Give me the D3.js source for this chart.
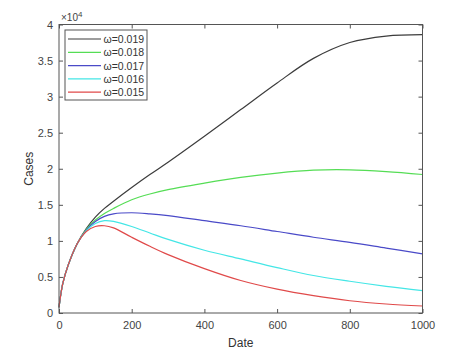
<!DOCTYPE html>
<html><head><meta charset="utf-8">
<script src="https://cdn.jsdelivr.net/npm/d3@7"></script>
<style>
body{margin:0;background:#fff;}
text{font-family:"Liberation Sans",Arial,sans-serif;}
</style></head>
<body><svg id="c" width="455" height="358"></svg>
<script>
const days = [0,10,25,50,75,100,125,150,200,250,300,400,500,600,700,800,900,1000];
const w019 = [800,4000,6600,9600,11700,13300,14500,15500,17400,19200,20900,24500,28200,31900,35300,37500,38400,38600];
const w018 = [800,4000,6600,9600,11600,12900,13800,14500,15700,16500,17100,18000,18800,19400,19800,19850,19600,19200];
const w017 = [800,4000,6600,9600,11500,12700,13400,13750,13900,13750,13500,12800,12100,11300,10500,9800,9000,8200];
const w016 = [800,4000,6600,9600,11400,12400,12800,12700,12000,11100,10200,8700,7500,6300,5200,4400,3700,3100];
const w015 = [800,4000,6600,9600,11300,12000,12100,11800,10500,9250,8100,6150,4500,3300,2400,1700,1250,970];
const seriesNames = ["ω=0.019","ω=0.018","ω=0.017","ω=0.016","ω=0.015"];
const seriesData = [w019,w018,w017,w016,w015];
const colors = ["#3c3c3c","#55dd55","#4a4ac8","#44e6e6","#e04a4a"];
const xTicks = [0,200,400,600,800,1000];
const yTicks = [0,5000,10000,15000,20000,25000,30000,35000,40000];

const svg = d3.select("#c");
const L=59, R=422.5, T=24.5, B=313;
const x = d3.scaleLinear().domain([0,1000]).range([L,R]);
const y = d3.scaleLinear().domain([0,40000]).range([B,T]);
const axisCol = "#555";

// series
const line = d3.line().x((d,i)=>x(days[i])).y(d=>y(d)).curve(d3.curveCatmullRom.alpha(0.5));
seriesData.forEach((s,k)=>{
  svg.append("path").attr("d",line(s)).attr("fill","none")
    .attr("stroke",colors[k]).attr("stroke-width",1.2);
});

// box
svg.append("rect").attr("x",L).attr("y",T).attr("width",R-L).attr("height",B-T)
  .attr("fill","none").attr("stroke",axisCol).attr("stroke-width",1);

// axes
const fmtY = d => d===0 ? "0" : String(d/10000);
const xa = svg.append("g").attr("transform",`translate(0,${B})`)
  .call(d3.axisBottom(x).tickValues(xTicks).tickSize(-4).tickPadding(8).tickFormat(d3.format("d")));
const xt = svg.append("g").attr("transform",`translate(0,${T})`)
  .call(d3.axisTop(x).tickValues(xTicks).tickSize(-4).tickFormat(""));
const ya = svg.append("g").attr("transform",`translate(${L},0)`)
  .call(d3.axisLeft(y).tickValues(yTicks).tickSize(-4).tickPadding(6).tickFormat(fmtY));
const yr = svg.append("g").attr("transform",`translate(${R},0)`)
  .call(d3.axisRight(y).tickValues(yTicks).tickSize(-4).tickFormat(""));
[xa,xt,ya,yr].forEach(g=>{
  g.select(".domain").remove();
  g.selectAll("line").attr("stroke",axisCol);
  g.selectAll("text").attr("fill","#444").style("font-size","11px")
   .style("font-family","'Liberation Sans',Arial,sans-serif");
});

// exponent
const ex = svg.append("text").attr("x",61).attr("y",21).attr("fill","#444").style("font-size","10px");
ex.append("tspan").text("×10");
ex.append("tspan").attr("dy",-4).style("font-size","8px").text("4");

// labels
svg.append("text").attr("x",(L+R)/2).attr("y",347).attr("text-anchor","middle")
  .attr("fill","#333").style("font-size","12px").text("Date");
svg.append("text").attr("transform",`translate(33,${(T+B)/2}) rotate(-90)`)
  .attr("text-anchor","middle").attr("fill","#333").style("font-size","12px").text("Cases");

// legend
const lg = svg.append("g");
lg.append("rect").attr("x",65).attr("y",30).attr("width",82).attr("height",70)
  .attr("fill","#fff").attr("stroke",axisCol).attr("stroke-width",1);
seriesNames.forEach((n,k)=>{
  const yy = 39 + k*13.3;
  lg.append("line").attr("x1",68).attr("x2",101).attr("y1",yy).attr("y2",yy)
    .attr("stroke",colors[k]).attr("stroke-width",1.2);
  lg.append("text").attr("x",103.5).attr("y",yy+4).attr("fill","#333")
    .style("font-size","10.5px").text(n);
});
</script></body></html>
